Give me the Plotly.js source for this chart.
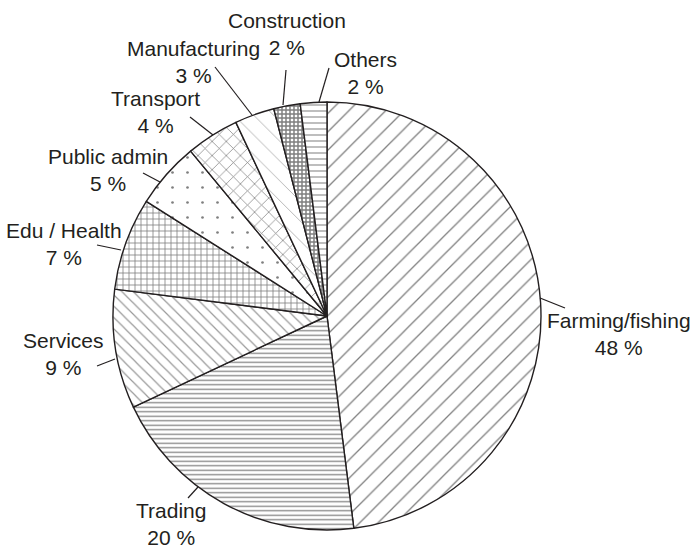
<!DOCTYPE html>
<html>
<head>
<meta charset="utf-8">
<script src="https://cdn.plot.ly/plotly-3.0.1.min.js"></script>
<style>html,body{margin:0;padding:0;background:#fff;}</style>
</head>
<body>
<div id="chart" style="width:693px;height:550px;"></div>
<script>
// Data
const categories = ["Farming/fishing", "Trading", "Services", "Edu / Health", "Public admin", "Transport", "Manufacturing", "Construction", "Others"];
const shares = [48, 20, 9, 7, 5, 4, 3, 2, 2];
const shareLabels = ["48 %", "20 %", "9 %", "7 %", "5 %", "4 %", "3 %", "2 %", "2 %"];

// Styles (patterns per slice)
const patShapes = ["/", "-", "\\", "+", ".", "x", "\\", "+", "-"];
const patSizes = [13, 4.5, 8, 6, 15, 10, 14, 4, 6];
const patSolidity = [0.1, 0.3, 0.15, 0.25, 0.025, 0.14, 0.06, 0.6, 0.2];
const patColors = ["#000", "#111", "#333", "#000", "#000", "#000", "#555", "#000", "#222"];

// Label layout (pixel positions: text centre, leader line outer & inner ends)
const W = 693, H = 550;
const labelPos = [[619, 334], [171, 524], [63, 354], [64, 244], [108, 170], [155, 112], [193, 62], [287, 34], [365, 73]];
const leaderOuter = [[565, 308], [188, 498], [97, 366], [97, 245], [143, 173], [190, 117], [215, 67], [286, 70], [329, 68]];
const leaderInner = [[540, 298], [198, 487], [115, 359], [121, 250], [160, 182], [213, 135], [252, 115], [283, 105], [319, 102]];

const px = x => x / W;
const py = y => 1 - y / H;

const annotations = categories.map((c, i) => ({
  text: c + "<br>" + shareLabels[i],
  x: px(labelPos[i][0]), y: py(labelPos[i][1]),
  xref: "paper", yref: "paper",
  xanchor: "center", yanchor: "middle",
  showarrow: false,
  font: {family: "Liberation Sans, Arial, sans-serif", size: 21, color: "#231f20"}
}));

const shapes = categories.map((c, i) => ({
  type: "line", xref: "paper", yref: "paper",
  x0: px(leaderOuter[i][0]), y0: py(leaderOuter[i][1]),
  x1: px(leaderInner[i][0]), y1: py(leaderInner[i][1]),
  line: {color: "#231f20", width: 1.2}
}));

const trace = {
  type: "pie",
  labels: categories,
  values: shares,
  sort: false,
  direction: "clockwise",
  rotation: 0,
  textinfo: "none",
  hoverinfo: "label+percent",
  showlegend: false,
  domain: {x: [113 / W, 541 / W], y: [1 - 530 / H, 1 - 102 / H]},
  marker: {
    colors: categories.map(() => "white"),
    line: {color: "#231f20", width: 1.4},
    pattern: {
      shape: patShapes,
      size: patSizes,
      solidity: patSolidity,
      fgcolor: patColors,
      bgcolor: "white",
      fillmode: "overlay"
    }
  }
};

const layout = {
  width: W, height: H,
  margin: {l: 0, r: 0, t: 0, b: 0},
  paper_bgcolor: "white",
  annotations: annotations,
  shapes: shapes
};

Plotly.newPlot("chart", [trace], layout, {displayModeBar: false, staticPlot: true});
</script>
</body>
</html>
